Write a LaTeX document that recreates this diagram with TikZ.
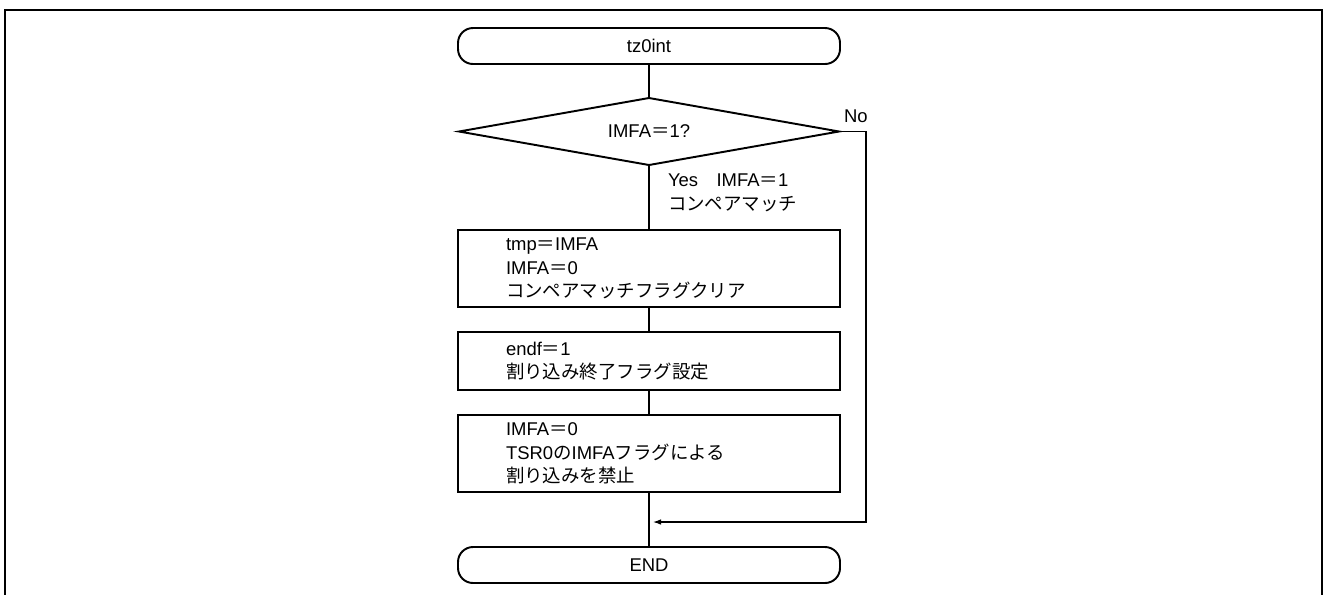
\documentclass[tikz,border=0pt]{standalone}
\usepackage{fontspec}
\setmainfont{Liberation Sans}
\newfontfamily\jpfont{Noto Sans CJK JP}
\newcommand{\ja}[1]{{\jpfont #1}}
\usetikzlibrary{arrows.meta}
\usetikzlibrary{shapes.geometric,positioning}
\tikzset{
	every node/.style = {font=\fontsize{10.5}{13.5}\selectfont, outer sep=0pt},
	term/.style = {draw, line width=1.1pt, rectangle, rounded corners=0.3cm, minimum width=7.64cm, minimum height=0.72cm, inner sep=0pt},
	cond/.style = {draw, line width=1.1pt, diamond, aspect=5.7, minimum width=7.6cm, minimum height=1.34cm, inner sep=0pt},
	proc/.style = {draw, line width=1.1pt, rectangle, minimum width=7.64cm, text width=5.72cm, align=left, inner xsep=0.96cm, inner ysep=0pt},
	line/.style = {line width=0.6pt},
	note/.style = {inner sep=0pt, align=left}
}

\begin{document}
\begin{tikzpicture}
	\useasboundingbox (0,0) rectangle (26.48,-11.88);
	\draw[line width=1.1pt] (0.1,-12) -- (0.1,-0.2) -- (26.44,-0.2) -- (26.44,-12);
	\node[term] (start) at (12.98,-0.92) {tz0int};
	\node[cond] (dec) [below=0.68cm of start] {IMFA\ja{＝}1?};
	\node[proc, minimum height=1.54cm] (clr) [below=1.3cm of dec] {tmp\ja{＝}IMFA\\IMFA\ja{＝}0\\\ja{コンペアマッチフラグクリア}};
	\node[proc, minimum height=1.16cm] (endf) [below=0.5cm of clr] {endf\ja{＝}1\\\ja{割り込み終了フラグ設定}};
	\node[proc, minimum height=1.54cm] (dis) [below=0.5cm of endf] {IMFA\ja{＝}0\\TSR0\ja{の}IMFA\ja{フラグによる}\\\ja{割り込みを禁止}};
	\path (dis.south) ++(0,-0.6) coordinate (merge);
	\node[term] (stop) [below=1.1cm of dis] {END};
	\node[note] (yes) [below right=0.18cm and 0.38cm of dec.south] {Yes\ja{　}IMFA\ja{＝}1\\\ja{コンペアマッチ}};
	\node[note] (no) [above right=0.18cm and 0.1cm of dec.east] {No};
	\draw[line] (start) -- (dec);
	\draw[line] (dec) -- (clr);
	\draw[line] (clr) -- (endf);
	\draw[line] (endf) -- (dis);
	\draw[line] (dis) -- (stop);
	\draw[line, -{Latex[length=1.6mm,width=1.1mm]}, shorten >=0.08cm] (dec.east) -- ++(0.54,0) |- (merge);
\end{tikzpicture}
\end{document}
